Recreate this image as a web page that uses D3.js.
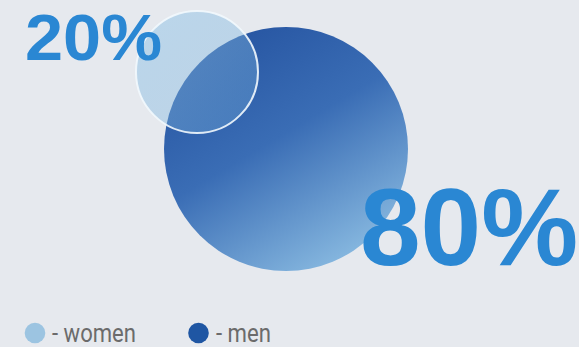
<!DOCTYPE html>
<html>
<head>
<meta charset="utf-8">
<script src="https://cdn.jsdelivr.net/npm/d3@7/dist/d3.min.js"></script>
<style>
  html, body { margin: 0; padding: 0; background: #e6e9ee; }
  svg { display: block; }
</style>
</head>
<body>
<svg id="chart" width="579" height="347"></svg>
<script>
// Share of respondents by gender
const categories = ["women", "men"];
const values = [20, 80];
const labels = ["20%", "80%"];
const legendLabels = ["- women", "- men"];
const legendColors = ["#9cc4e1", "#1f56a3"];

const svg = d3.select("#chart");
const W = 579, H = 347;

svg.append("rect").attr("width", W).attr("height", H).attr("fill", "#e6e9ee");

const defs = svg.append("defs");

// Deep blue fading to sky blue for the large bubble
const gBig = defs.append("linearGradient")
  .attr("id", "gradBig").attr("x1", "20%").attr("y1", "0%").attr("x2", "80%").attr("y2", "100%");
gBig.append("stop").attr("offset", "0%").attr("stop-color", "#2553a0");
gBig.append("stop").attr("offset", "45%").attr("stop-color", "#3a6db5");
gBig.append("stop").attr("offset", "100%").attr("stop-color", "#8fc0e4");

// Frosted glass look for the small bubble
const gSmall = defs.append("linearGradient")
  .attr("id", "gradSmall").attr("x1", "0%").attr("y1", "0%").attr("x2", "100%").attr("y2", "100%");
gSmall.append("stop").attr("offset", "0%").attr("stop-color", "#98c8e9").attr("stop-opacity", 0.55);
gSmall.append("stop").attr("offset", "100%").attr("stop-color", "#6ea9d8").attr("stop-opacity", 0.3);

// Bubble area proportional to value
const r = d3.scaleSqrt().domain([0, d3.max(values)]).range([0, 122]);

const centers = [[197, 72], [286, 149]];

// Large bubble (men) first, small bubble (women) drawn over it
svg.append("circle")
  .attr("cx", centers[1][0]).attr("cy", centers[1][1])
  .attr("r", r(values[1]))
  .attr("fill", "url(#gradBig)");

svg.append("circle")
  .attr("cx", centers[0][0]).attr("cy", centers[0][1])
  .attr("r", r(values[0]))
  .attr("fill", "url(#gradSmall)")
  .attr("stroke", "#f2f8fd")
  .attr("stroke-opacity", 0.9)
  .attr("stroke-width", 2);

// Percent labels
const labelFont = "'Liberation Sans', Arial, Helvetica, sans-serif";
const labelPos = [
  { x: 25, y: 60, size: 65, len: 137 },
  { x: 360, y: 265, size: 109, len: null }
];
svg.selectAll("text.pct").data(labels).join("text")
  .attr("class", "pct")
  .attr("x", (d, i) => labelPos[i].x)
  .attr("y", (d, i) => labelPos[i].y)
  .attr("font-family", labelFont)
  .attr("font-weight", "bold")
  .attr("font-size", (d, i) => labelPos[i].size)
  .attr("textLength", (d, i) => labelPos[i].len)
  .attr("lengthAdjust", (d, i) => labelPos[i].len ? "spacingAndGlyphs" : null)
  .attr("fill", "#2a87d3")
  .text(d => d);

// Legend
const legendX = [35, 198.5];
const legend = svg.selectAll("g.legend").data(categories).join("g")
  .attr("class", "legend")
  .attr("transform", (d, i) => `translate(${legendX[i]},333)`);
legend.append("circle")
  .attr("r", 10.3)
  .attr("fill", (d, i) => legendColors[i]);
legend.append("text")
  .attr("x", (d, i) => i === 0 ? 17 : 17.5)
  .attr("y", 8.5)
  .attr("font-family", "Roboto, 'Noto Sans', sans-serif")
  .attr("font-size", 26)
  .attr("fill", "#6b6b6b")
  .attr("textLength", (d, i) => i === 0 ? 84 : 55)
  .attr("lengthAdjust", "spacingAndGlyphs")
  .text((d, i) => legendLabels[i]);
</script>
</body>
</html>
